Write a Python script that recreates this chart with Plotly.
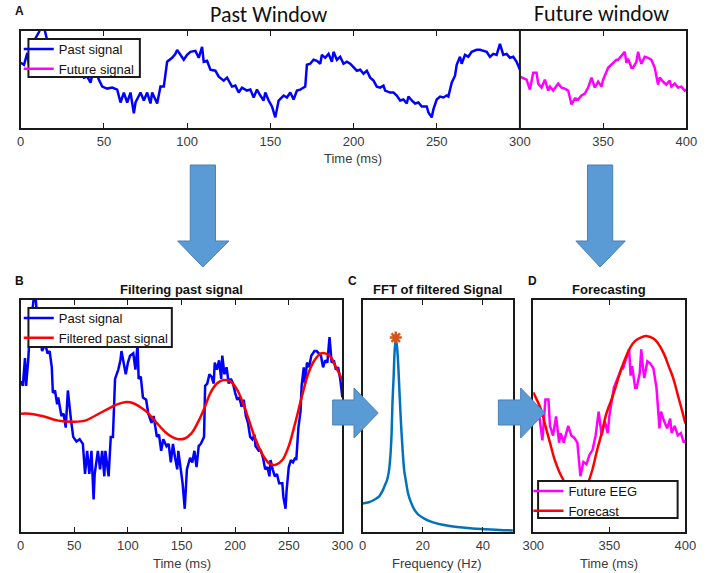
import plotly.graph_objects as go

W, H = 708, 573

# ---------------- data ----------------
past_t = [0,2,4,5,7,9,11,13,14,16,17,19,20,23,25,27,29,30,32,34,35,38,40,42,44,47,49,52,55,58,
          60,62,64,66,68,69,72,74,76,78,79,82,84,86,88,91,93,94,96,98,100,102,105,107,109,110,112,114,117,119,
          122,124,127,129,131,133,136,138,140,142,144,146,147,149,151,153,155,158,160,162,164,166,168,171,172,174,176,178,180,181,
          183,185,187,188,190,192,194,196,198,200,202,204,206,208,210,212,214,216,218,219,222,224,226,228,230,232,233,235,237,239,
          241,244,245,247,248,250,252,254,256,257,259,261,262,264,265,267,269,271,274,276,278,280,282,284,286,288,290,292,294,296,298,300]
past_v = [65,63,75,63,74,90,96,104,101,88,80,81,78,81,77,78,71,60,61,55,58,50,51,45,61,48,41,39,40,38,
          25,35,25,35,14,25,35,27,35,24,35,24,41,41,66,70,74,78,73,68,73,76,77,70,81,66,67,58,57,51,
          47,50,41,42,35,40,37,38,30,38,32,27,35,27,21,10,27,32,30,35,28,37,38,41,63,64,68,67,64,73,
          70,74,66,76,68,71,64,66,64,60,57,58,54,57,50,47,41,40,42,37,35,35,32,27,28,24,31,27,24,25,
          21,21,15,10,18,28,31,30,32,31,45,52,63,71,64,73,71,76,78,78,77,76,71,74,73,84,73,74,70,71,66,58]

filt_t = [0,8,20,35,50,60,69,81,90,99,105,111,117,126,135,141,147,153,159,165,171,177,183,189,195,201,207,213,219,226,
          232,238,244,250,256,262,268,274,280,284,289,293,300]
filt_v = [51,51,50,48,47.5,48,50,53,55,56,55.5,54,52,47.5,43,41,40,40.3,42.4,47,53,60,64,65.5,65,62,56,48,40,33,
          29.5,29,31,37,47,58,68,74,77,77,75.5,72,65.5]

fut_t = [300,304,306,308,310,311,313,315,317,318,320,323,325,327,329,331,333,335,337,339,
         341,343,345,347,349,350,353,358,359,363,364,365,367,368,370,371,372,373,375,377,
         379,381,383,384,386,388,390,391,393,395,397,399,400]
fut_v = [51,48,38,55,55,44,40,48,37,41,37,44,40,39,37,23,29,28,32,34,
         40,50,40,46,41,48,60,68,68,76,65,69,60,60,66,76,69,64,71,70,
         68,60,43,50,46,43,47,41,44,40,41,37,38]

fc_t = [300,305,308,311,314,317,321,324,327,330,333,336,339,342,345,348,352,355,358,361,
        364,367,371,375,379,382,386,389,392,395,398,400]
fc_v = [58,51,44,37,30,25,20,16.5,14,13.5,15,20,26,34,41,49,56,62,68,73,
        77,79.5,81,81.5,80.5,78.5,74,69,64,57,50,45]

fft_f = [0,2,4,5.4,6.5,7.5,8.1,8.7,9.2,9.6,9.9,10.3,10.6,11.0,11.5,11.9,12.3,12.8,13.3,13.8,
         14.5,15.1,16,17.3,18.5,20.5,22.5,24.9,28,31.4,35,37.8,41,44.3,47,50]
fft_a = [0.123,0.128,0.140,0.152,0.175,0.205,0.224,0.26,0.325,0.42,0.556,0.672,0.773,0.838,0.788,0.701,0.585,0.455,0.35,0.267,
         0.21,0.166,0.13,0.094,0.075,0.058,0.046,0.036,0.028,0.022,0.017,0.014,0.012,0.010,0.008,0.007]
peak_f = [11.0]
peak_a = [0.838]

ticks_A = [0, 50, 100, 150, 200, 250, 300, 350, 400]
ticks_B = [0, 50, 100, 150, 200, 250, 300]
ticks_C = [0, 20, 40]
ticks_D = [300, 350, 400]

# ---------------- styling helpers ----------------
BLUE, MAG, RED, FFTC, STAR = "#0000FF", "#FF00FF", "#FF0000", "#0072BD", "#D95319"
AX = "#1a1a1a"
TF = "Liberation Sans, Arial, Helvetica, sans-serif"

def px(x):
    return x / W

def py(y):
    return 1 - y / H

def xaxis(dom, rng, tv, anchor):
    return dict(domain=[px(dom[0]), px(dom[1])], range=rng, tickvals=tv, ticks="inside", ticklen=5,
                tickwidth=1, tickcolor=AX, showline=True, linecolor=AX, linewidth=2, mirror="ticks",
                showgrid=False, zeroline=False, anchor=anchor,
                tickfont=dict(family=TF, size=13, color="#3a3a3a"))

def yaxis(dom, rng, anchor):
    return dict(domain=[py(dom[1]), py(dom[0])], range=rng, showticklabels=False, ticks="",
                showline=True, linecolor=AX, linewidth=2, mirror=True, showgrid=False,
                zeroline=False, anchor=anchor)

fig = go.Figure()

# Panel A
fig.add_trace(go.Scatter(x=past_t, y=past_v, mode="lines", line=dict(color=BLUE, width=2.5),
                         name="Past signal", xaxis="x", yaxis="y", legend="legend"))
fig.add_trace(go.Scatter(x=fut_t, y=fut_v, mode="lines", line=dict(color=MAG, width=2.5),
                         name="Future signal", xaxis="x", yaxis="y", legend="legend"))
# Panel B
fig.add_trace(go.Scatter(x=past_t, y=past_v, mode="lines", line=dict(color=BLUE, width=2.5),
                         name="Past signal", xaxis="x2", yaxis="y2", legend="legend2"))
fig.add_trace(go.Scatter(x=filt_t, y=filt_v, mode="lines", line=dict(color=RED, width=2.5, shape="spline"),
                         name="Filtered past signal", xaxis="x2", yaxis="y2", legend="legend2"))
# Panel C
fig.add_trace(go.Scatter(x=fft_f, y=fft_a, mode="lines", line=dict(color=FFTC, width=2.5, shape="spline", smoothing=0.6),
                         showlegend=False, xaxis="x3", yaxis="y3"))
fig.add_trace(go.Scatter(x=peak_f, y=peak_a, mode="markers",
                         marker=dict(symbol="asterisk-open", size=10, color=STAR, line=dict(color=STAR, width=2.5)),
                         showlegend=False, xaxis="x3", yaxis="y3"))
# Panel D
fig.add_trace(go.Scatter(x=fut_t, y=fut_v, mode="lines", line=dict(color=MAG, width=2.5),
                         name="Future EEG", xaxis="x4", yaxis="y4", legend="legend3"))
fig.add_trace(go.Scatter(x=fc_t, y=fc_v, mode="lines", line=dict(color=RED, width=2.5, shape="spline"),
                         name="Forecast", xaxis="x4", yaxis="y4", legend="legend3"))

leg_common = dict(bgcolor="rgba(0,0,0,0)", borderwidth=0, font=dict(family=TF, size=13, color="#111"),
                  xanchor="left", yanchor="top", tracegroupgap=0, itemwidth=30)

ann = []
def text(x, y, s, size=13, bold=False, family=TF, color="#111"):
    ann.append(dict(x=px(x), y=py(y), xref="paper", yref="paper", text=("<b>%s</b>" % s) if bold else s,
                    showarrow=False, xanchor="center", yanchor="middle",
                    font=dict(family=family, size=size, color=color)))

TITLE_FONT = "Carlito, Lato, Open Sans, sans-serif"
text(266, 15, "Past Window", size=22, family=TITLE_FONT)
text(609, 14, "Future window", size=22, family=TITLE_FONT)
text(9, 11, "A", size=12, bold=True)
text(9, 281, "B", size=12, bold=True)
text(352, 281, "C", size=12, bold=True)
text(538, 281, "D", size=12, bold=True)
text(176, 289, "Filtering past signal", size=13, bold=True)
text(440, 289, "FFT of filtered Signal", size=13, bold=True)
text(617, 289, "Forecasting", size=13, bold=True)
text(353, 158, "Time (ms)", size=13, color="#3a3a3a")
text(176, 563, "Time (ms)", size=13, color="#3a3a3a")
text(440, 563, "Frequency (Hz)", size=13, color="#3a3a3a")
text(617, 563, "Time (ms)", size=13, color="#3a3a3a")

def path(pts):
    s = "M " + " L ".join("%.5f,%.5f" % (px(a), py(b)) for a, b in pts) + " Z"
    return s

def box(x0, y0, x1, y1):
    return dict(type="rect", xref="paper", yref="paper", x0=px(x0), x1=px(x1), y0=py(y1), y1=py(y0),
                fillcolor="white", line=dict(color=AX, width=2), layer="above")

ARROW = dict(type="path", xref="paper", yref="paper", fillcolor="#5B9BD5",
             line=dict(color="#4A7FB5", width=1), layer="above")
shapes = [
    dict(type="line", xref="x", yref="y domain", x0=300, x1=300, y0=0, y1=1, line=dict(color=AX, width=2)),
    box(18, 39, 133, 77),
    box(18, 308, 166, 347),
    box(544, 481, 688, 518),
    dict(ARROW, path=path([(185,165),(211,165),(211,241),(225,241),(198,267),(172,241),(185,241)])),
    dict(ARROW, path=path([(595,165),(621,165),(621,241),(634,241),(608,267),(583,241),(595,241)])),
    dict(ARROW, path=path([(332,400),(354,400),(354,388),(379,413),(354,438),(354,425),(332,425)])),
    dict(ARROW, path=path([(503,400),(526,400),(526,388),(551,413),(526,438),(526,425),(503,425)])),
]

fig.update_layout(
    width=W, height=H, margin=dict(l=0, r=0, t=0, b=0),
    paper_bgcolor="white", plot_bgcolor="white",
    xaxis=xaxis((10, 697), [0, 400], ticks_A, "y"),
    yaxis=yaxis((31, 128), [-0.7, 97], "x"),
    xaxis2=xaxis((10, 342), [0, 300], ticks_B, "y2"),
    yaxis2=yaxis((300, 532), [0, 100], "x2"),
    xaxis3=xaxis((363, 518), [0, 50], ticks_C, "y3"),
    yaxis3=yaxis((300, 532), [0, 1], "x3"),
    xaxis4=xaxis((539, 696), [300, 400], ticks_D, "y4"),
    yaxis4=yaxis((300, 532), [-0.3, 96.6], "x4"),
    legend=dict(leg_common, x=px(8), y=py(34)),
    legend2=dict(leg_common, x=px(8), y=py(303)),
    legend3=dict(leg_common, x=px(534), y=py(476)),
    annotations=ann, shapes=shapes,
)

fig.write_html("out.html", config={"displayModeBar": False},
               post_script="document.body.style.margin='0';document.body.style.overflow='hidden';")
